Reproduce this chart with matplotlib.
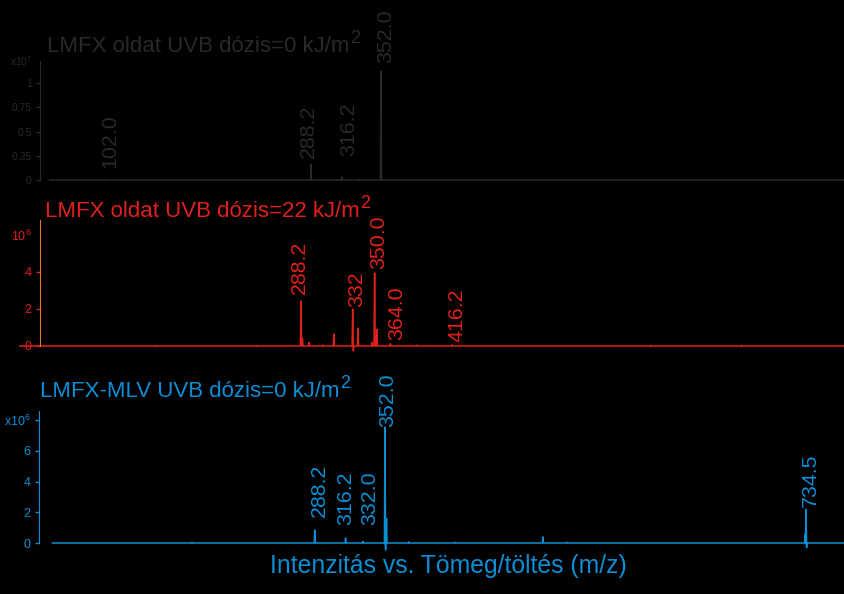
import numpy as np
import matplotlib
matplotlib.use("Agg")
import matplotlib.pyplot as plt

plt.rcParams['font.family'] = ['Liberation Sans', 'DejaVu Sans']
plt.rcParams['mathtext.fontset'] = 'custom'
plt.rcParams['mathtext.rm'] = 'Liberation Sans'
plt.rcParams['mathtext.it'] = 'Liberation Sans'

#-----------------------------------------------------------------------------#
# data (peak m/z and intensities)

# LMFX oldat, 0 kJ/m2  (x1e7)
mz1  = [101.0, 176.0, 288.2, 296.4, 316.2, 332.0, 352.0, 374.0]
int1 = [0.008, 0.004, 0.16, 0.006, 0.03, 0.008, 1.12, 0.006]
lab1 = ['102.0', '288.2', '316.2', '352.0']
lab1_mz = [102.0, 288.2, 316.2, 352.0]

# LMFX oldat, 22 kJ/m2  (x1e6)
mz2  = [166.0, 251.0, 288.2, 289.4, 295.0, 306.8, 316.0, 332.0, 332.6,
        336.5, 348.4, 350.6, 352.6, 364.0, 386.5, 416.2, 585.0, 662.0]
int2 = [0.03, 0.03, 2.43, 0.4, 0.2, 0.05, 0.65, 2.0, -0.27,
        0.97, 0.2, 3.95, 0.9, 0.12, 0.05, 0.06, 0.04, 0.04]
lab2 = ['288.2', '332', '350.0', '364.0', '416.2']
lab2_mz = [288.2, 332.0, 350.6, 364.0, 416.2]

# LMFX-MLV, 0 kJ/m2  (x1e6)
mz3  = [176.7, 288.2, 316.2, 332.0, 352.0, 352.6, 353.4, 373.8, 415.6,
        495.5, 517.3, 733.9, 734.5, 735.1]
int3 = [0.04, 0.85, 0.33, 0.1, 7.55, -0.45, 1.6, 0.08, 0.05,
        0.4, 0.05, 0.6, 2.2, -0.3]
lab3 = ['288.2', '316.2', '332.0', '352.0', '734.5']
lab3_mz = [288.2, 316.2, 332.0, 352.0, 734.5]

titles = ['LMFX oldat UVB dózis=0 kJ/m',
          'LMFX oldat UVB dózis=22 kJ/m',
          'LMFX-MLV UVB dózis=0 kJ/m']
title_sup = '2'
xlabel = 'Intenzitás vs. Tömeg/töltés (m/z)'

#-----------------------------------------------------------------------------#
# styling / layout (pixel based, figure is 844x594)
W, H = 844., 594.
c_gray = '#2b2827'
c_red = '#e0201c'
c_orange = '#e07b1a'
c_blue = '#0a8fd6'

def spectrum(mz, inten, start, end, w=0.5):
    x, y = [start], [0.]
    for m, h in zip(mz, inten):
        x += [m-w, m, m+w]
        y += [0., h, 0.]
    x.append(end)
    y.append(0.)
    return np.array(x), np.array(y)

def make_ax(left, bottom, top):
    ax = fig.add_axes([left/W, 1-bottom/H, (W-left)/W, (bottom-top)/H])
    ax.set_facecolor('none')
    for s in ['top', 'right', 'bottom']:
        ax.spines[s].set_visible(False)
    ax.set_xticks([])
    ax.tick_params(axis='y', direction='out', length=3, width=1, pad=3)
    return ax

def labels(ax, labs, mzs, ys, dxs, color):
    for t, m, y, dx in zip(labs, mzs, ys, dxs):
        ax.annotate(t, xy=(m, y), xytext=((dx+2)*0.72, 0), textcoords='offset points',
                    rotation=90, ha='center', va='bottom', fontsize=15.4, color=color,
                    annotation_clip=False)

def title(ax, x, y, s, color):
    t = fig.text(x/W, 1-y/H, s, fontsize=16, color=color, va='baseline')
    ax.annotate(title_sup, xy=(1, 1), xycoords=t, xytext=(0.5, 4),
                textcoords='offset points', ha='left', va='top',
                fontsize=13, color=color, annotation_clip=False)

fig = plt.figure(figsize=(W/100, H/100), dpi=100, facecolor='black')

#-----------------------------------------------------------------------------#
# panel 1
ax1 = make_ax(40, 180, 61)
ax1.set_xlim(41.2, 774.1)
ax1.set_ylim(0, 1.227)
x, y = spectrum(mz1, int1, 50., 800.)
ax1.plot(x, y, color=c_gray, lw=1.1, clip_on=False)
ax1.spines['left'].set_color(c_gray)
ax1.set_yticks([0, 0.25, 0.5, 0.75, 1])
ax1.set_yticklabels(['0', '0.25', '0.5', '0.75', '1'])
ax1.tick_params(axis='y', colors=c_gray, labelsize=7.5)
ax1.text(-0.01, 1.227, 'x10$^7$', transform=ax1.get_yaxis_transform(),
         ha='right', va='center', fontsize=7.5, color=c_gray)
labels(ax1, lab1, lab1_mz, [0.124, 0.227, 0.247, 1.206], [1.5, -4.5, 4.5, 2.5], c_gray)
title(ax1, 47, 52, titles[0], c_gray)

#-----------------------------------------------------------------------------#
# panel 2
ax2 = make_ax(40, 346, 220)
ax2.set_xlim(67.0, 748.4)
ax2.set_ylim(0, 6.81)
x, y = spectrum(mz2, int2, 50., 800.)
ax2.plot(x, y, color=c_red, lw=1.1, clip_on=False, zorder=1)
ax2.spines['left'].set_color(c_orange)
ax2.spines['left'].set_zorder(3)
ax2.set_yticks([0, 2, 4])
ax2.tick_params(axis='y', colors=c_red, labelsize=9)
ax2.text(-0.01, 5.9, '10$^6$', transform=ax2.get_yaxis_transform(),
         ha='right', va='center', fontsize=9, color=c_red)
labels(ax2, lab2, lab2_mz, [2.81, 2.1, 4.16, 0.32, 0.2], [-4, 2, 2.5, 4, 3], c_red)
title(ax2, 45, 217, titles[1], c_red)

#-----------------------------------------------------------------------------#
# panel 3
ax3 = make_ax(39, 543, 411)
ax3.set_xlim(37.7, 769.0)
ax3.set_ylim(0, 8.6)
x, y = spectrum(mz3, int3, 50., 800.)
ax3.plot(x, y, color=c_blue, lw=1.1, clip_on=False)
ax3.spines['left'].set_color(c_blue)
ax3.set_yticks([0, 2, 4, 6, 8])
ax3.set_yticklabels(['0', '2', '4', '6', 'x10$^6$'])
ax3.tick_params(axis='y', colors=c_blue, labelsize=9)
labels(ax3, lab3, lab3_mz, [1.7, 1.17, 1.17, 7.55, 2.35], [2.7, -2, 5, 1, 2], c_blue)
title(ax3, 40, 397, titles[2], c_blue)

fig.text(270/W, 1-573/H, xlabel, fontsize=17.8, color=c_blue, va='baseline')

fig.savefig('out.png', dpi=100, facecolor='black')
